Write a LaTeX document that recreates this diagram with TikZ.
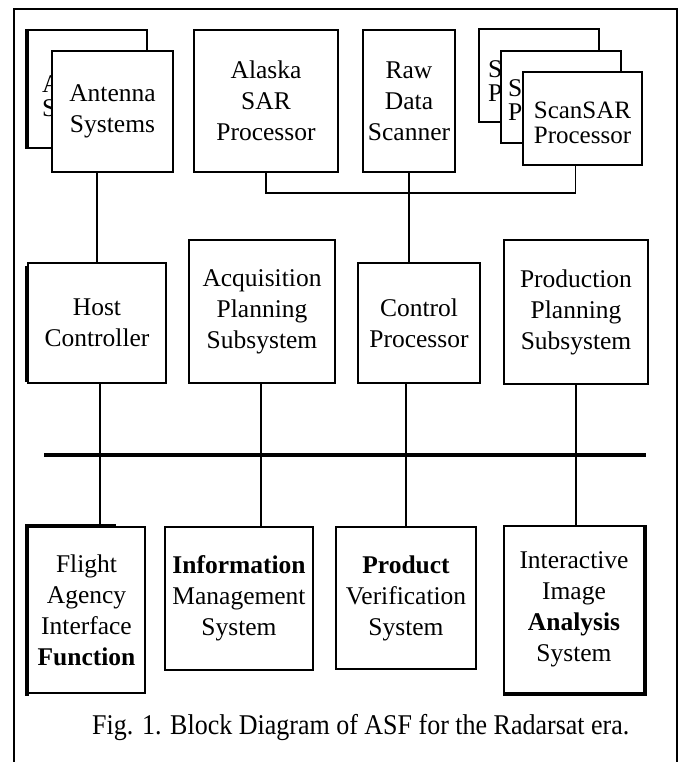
\documentclass[tikz,border=0pt]{standalone}
\usepackage{fontspec}
\setmainfont{Liberation Serif}
\begin{document}
\begin{tikzpicture}[x=1pt,y=-1pt,
  box/.style={draw, line width=2pt, fill=white, inner sep=0pt, align=center,
    font=\fontsize{25.5}{31}\selectfont, anchor=north west},
  frag/.style={anchor=base west, inner sep=0pt, font=\fontsize{25.5}{31}\selectfont},
  conn/.style={line width=2.4pt},
  thinconn/.style={line width=1.6pt},
  busline/.style={line width=4pt},
  thickedge/.style={line width=4.5pt}]
\useasboundingbox (0,0) rectangle (683,762);
% frame
\draw[line width=2pt] (14,762) -- (14,9) -- (677,9) -- (677,762);
% top row
\node[box, minimum width=119pt, minimum height=118pt] (antb) at (27,29) {};
\draw[thickedge] (antb.north west) -- (antb.south west);
\node[frag] (antbA) at (42,93) {A};
\node[frag] (antbS) at (42,117) {S};
\node[box, minimum width=121pt, minimum height=121pt] (ant) at (51,50) {Antenna\\Systems};
\node[box, minimum width=144pt, minimum height=142pt] (asp) at (193,29) {Alaska\\SAR\\Processor};
\node[box, minimum width=92pt, minimum height=142pt] (raw) at (362,29) {Raw\\Data\\Scanner};
\node[box, minimum width=120pt, minimum height=93pt] (scanb) at (478,28) {};
\node[frag] (scanbS) at (488,78) {S};
\node[frag] (scanbP) at (488,102) {P};
\node[box, minimum width=120pt, minimum height=92pt] (scanm) at (500,50) {};
\node[frag] (scanmS) at (508,97) {S};
\node[frag] (scanmP) at (508,121) {P};
\node[box, minimum width=119pt, minimum height=93pt] (scanf) at (522,71) {};
\node[align=center, inner sep=0pt, font=\fontsize{25}{25}\selectfont] (scanft)
  at ([yshift=-4pt]scanf.center) {ScanSAR\\Processor};
% middle row
\node[box, minimum width=138pt, minimum height=120pt] (host) at (27,262) {Host\\Controller};
\draw[thickedge] ([yshift=-4pt]host.north west) -- ([yshift=2pt]host.south west);
\node[box, minimum width=146pt, minimum height=143pt] (aps) at (188,239) {Acquisition\\Planning\\Subsystem};
\node[box, minimum width=122pt, minimum height=120pt] (cp) at (357,262) {Control\\Processor};
\node[box, minimum width=144pt, minimum height=144pt] (pps) at (503,239) {Production\\Planning\\Subsystem};
% bottom row
\node[box, minimum width=117pt, minimum height=166pt] (faif) at (27,526) {Flight\\Agency\\Interface\\\textbf{Function}};
\draw[thickedge] ([yshift=2pt]faif.north west) -- ([yshift=-2pt]faif.south west);
\draw[thickedge] (faif.north west) -- ([xshift=-30pt]faif.north east);
\node[box, minimum width=148pt, minimum height=143pt] (ims) at (164,526) {\textbf{Information}\\Management\\System};
\node[box, minimum width=140pt, minimum height=142pt] (pvs) at (335,526) {\textbf{Product}\\Verification\\System};
\node[box, minimum width=140pt, minimum height=167pt] (iias) at (503,525) {Interactive\\Image\\\textbf{Analysis}\\System};
\draw[thickedge] (iias.north east) -- (iias.south east) -- (iias.south west);
% connectors top
\draw[thinconn] (ant.south -| host.north) -- (host.north);
\coordinate (jn) at (0,193);
\draw[thinconn] (asp.south) |- (jn -| raw.south);
\draw[thinconn] (jn -| raw.south) -| ([xshift=-7pt]scanf.south);
\draw[conn] (raw.south) -- (raw.south |- cp.north);
% bus
\coordinate (busL) at (44,455);
\coordinate (busR) at (646,455);
\draw[busline] (busL) -- (busR);
\coordinate (v1) at (100,455);
\coordinate (v2) at (261,455);
\coordinate (v3) at (406,455);
\coordinate (v4) at (576,455);
\draw[conn] (host.south -| v1) -- (faif.north -| v1);
\draw[conn] (aps.south -| v2) -- (ims.north -| v2);
\draw[conn] (cp.south -| v3) -- (pvs.north -| v3);
\draw[conn] (pps.south -| v4) -- (iias.north -| v4);
% caption
\node[anchor=base west, inner sep=0pt, font=\fontsize{26}{30}\selectfont] (cap) at (92,734)
  {\scalebox{1}[1.1]{Fig. 1. Block Diagram of ASF for the Radarsat era.}};
\end{tikzpicture}
\end{document}
